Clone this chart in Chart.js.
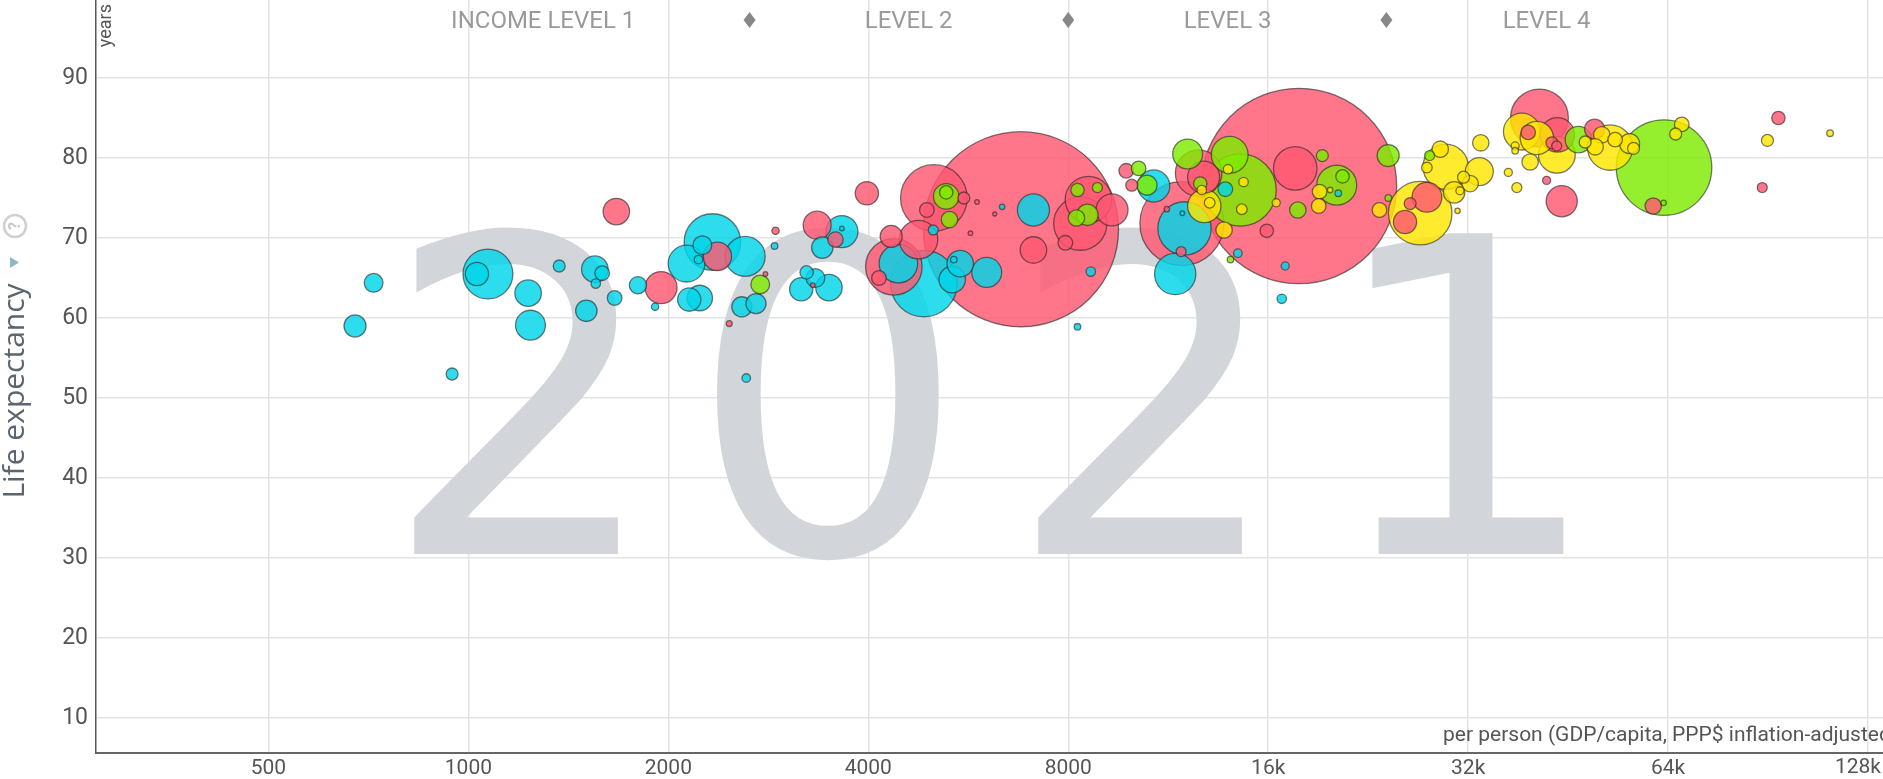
<!DOCTYPE html>
<html>
<head>
<meta charset="utf-8">
<title>Life expectancy vs income 2021</title>
<script src="https://cdn.jsdelivr.net/npm/chart.js@4.4.1/dist/chart.umd.min.js"></script>
<style>
  html, body { margin: 0; padding: 0; background: #fff; overflow: hidden; }
  #wrap { width: 1883px; height: 779px; }
</style>
</head>
<body>
<div id="wrap"><canvas id="bubbleChart" width="1883" height="779"></canvas></div>
<script>
// year shown behind the bubbles
const year = "2021";

// axis ticks
const xTicks = [500, 1000, 2000, 4000, 8000, 16000, 32000, 64000, 128000];
const yTicks = [10, 20, 30, 40, 50, 60, 70, 80, 90];

// income level header (GDP/capita where label / divider sits)
const levelLabels = ["INCOME LEVEL 1", "LEVEL 2", "LEVEL 3", "LEVEL 4"];
const levelCenters = [1296, 4600, 13900, 42000];
const levelBounds = [2650, 8000, 24100];

// [GDP per capita, life expectancy, population in millions]
const africa = [
  [1070, 65.5, 92], [1030, 65.5, 20], [720, 64.4, 13], [675, 59.0, 18], [945, 53.0, 5.3],
  [1230, 63.1, 26], [1240, 59.1, 33], [1370, 66.5, 5.3], [1550, 66.1, 26], [1590, 65.6, 7.9],
  [1555, 64.3, 3.3], [1505, 60.9, 17], [1660, 62.5, 7.9], [1800, 64.1, 11], [1910, 61.4, 2],
  [2330, 69.5, 118], [2610, 67.7, 59], [2130, 66.8, 50], [2250, 69.1, 13], [2220, 67.3, 2.7],
  [2150, 62.3, 20], [2230, 62.5, 24], [2580, 61.4, 15], [2710, 61.8, 15], [2890, 69.0, 1.6],
  [2620, 52.5, 2.7], [3650, 70.8, 38], [3410, 68.8, 17], [3650, 71.2, 0.8], [3230, 65.7, 6.6],
  [3330, 65.0, 13], [3170, 63.6, 20], [3490, 63.8, 26], [4850, 64.3, 164], [4440, 66.8, 55],
  [5350, 64.8, 26], [5500, 66.8, 26], [5380, 67.3, 1.6], [6030, 65.7, 33], [5010, 71.0, 3.7],
  [6360, 73.9, 1.1], [7090, 73.5, 38], [8650, 65.8, 3.3], [8260, 58.9, 1.6], [10760, 76.5, 38],
  [11970, 71.2, 105], [11590, 65.5, 63], [11880, 73.1, 0.8], [13790, 76.1, 7.9], [14400, 68.1, 2.7],
  [16970, 66.5, 2.4], [16770, 62.4, 3.3], [20400, 75.6, 1.6]
];

const asia = [
  [1670, 73.3, 26], [1950, 63.8, 38], [2370, 67.7, 30], [2900, 70.9, 2], [2800, 65.5, 0.8],
  [2470, 59.3, 1.3], [3350, 71.6, 29], [3570, 69.8, 8.8], [3300, 64.1, 0.8], [3980, 75.6, 20],
  [5020, 75.0, 164], [5570, 75.0, 5.3], [4900, 73.5, 7.9], [4330, 70.2, 18], [4760, 69.8, 55],
  [4370, 66.4, 118], [4150, 65.0, 7.9], [5830, 74.5, 0.8], [6200, 73.0, 0.5], [5700, 70.6, 0.8],
  [6790, 71.1, 1408], [7090, 68.5, 26], [17800, 76.5, 1412],
  [8580, 74.8, 80], [8340, 71.8, 105], [9310, 73.5, 38], [7920, 69.4, 7.9], [9780, 78.4, 7.9],
  [9970, 76.6, 5.3], [11860, 71.8, 261], [11830, 68.3, 3.7], [11260, 73.6, 1.1], [12790, 77.6, 38],
  [12570, 78.1, 80], [15920, 70.9, 6.6], [17570, 78.7, 70], [27740, 75.1, 33], [25710, 72.0, 20],
  [26170, 74.3, 5.3], [40970, 85.0, 124], [39400, 83.2, 7.9], [43600, 82.9, 44], [42770, 81.9, 5.3],
  [43500, 81.5, 3.7], [44260, 74.6, 36], [42000, 77.2, 2.4], [49600, 83.6, 15], [60780, 74.0, 10],
  [93800, 85.0, 6.6], [88700, 76.3, 3.7]
];

const americas = [
  [2750, 64.2, 13], [5240, 75.2, 24], [5240, 75.7, 6.6], [5300, 72.3, 10], [8260, 76.0, 6.6],
  [8850, 76.3, 3.7], [8550, 72.9, 17], [8230, 72.5, 10], [10210, 78.7, 7.9], [10510, 76.6, 15],
  [12100, 80.5, 33], [12640, 76.8, 6.6], [14000, 80.4, 50], [14520, 76.0, 192], [14040, 67.3, 1.6],
  [19300, 80.3, 5.3], [20290, 76.6, 59], [17730, 73.5, 10], [20700, 77.7, 6.6], [24250, 80.3, 18],
  [24260, 75.0, 1.6], [28000, 80.3, 3.7], [46900, 82.3, 26], [63100, 78.8, 337], [63000, 74.4, 1.1]
];

const europe = [
  [12820, 74.0, 41], [12710, 76.0, 3.3], [13060, 74.4, 4.2], [13730, 71.0, 10], [13920, 78.6, 3.3],
  [14690, 77.0, 3.3], [14600, 73.6, 4.2], [19120, 75.8, 7.9], [19060, 74.0, 7.9], [19830, 76.0, 1.1],
  [23530, 73.5, 7.9], [16450, 74.4, 2.4], [27100, 73.1, 149], [29600, 78.9, 76], [29050, 81.1, 10],
  [27730, 78.8, 4.2], [33260, 78.3, 29], [30480, 75.7, 17], [32220, 76.8, 10], [31490, 77.6, 5.3],
  [31100, 75.9, 2.4], [33430, 81.9, 10], [30840, 73.4, 1.1], [38540, 83.3, 50], [40600, 82.5, 41],
  [37660, 81.5, 2.4], [37660, 80.9, 1.6], [39670, 79.5, 10], [43520, 80.4, 50], [37880, 76.3, 3.7],
  [36780, 78.2, 2.4], [50850, 82.9, 10], [48000, 82.0, 5.3], [53260, 82.3, 7.9], [49700, 81.4, 10],
  [52350, 81.3, 76], [55990, 81.8, 15], [56770, 81.2, 5.3], [67100, 84.2, 7.9], [65700, 83.0, 5.3],
  [90300, 82.2, 5.3], [112200, 83.1, 1.6]
];

const regionColors = {
  africa: "rgba(0,213,233,0.82)",
  asia: "rgba(255,88,114,0.82)",
  americas: "rgba(127,235,0,0.82)",
  europe: "rgba(255,231,0,0.82)"
};

// one dataset, biggest bubbles first so small ones stay on top
const points = [];
Object.entries({ africa, asia, americas, europe }).forEach(([reg, rows]) => {
  rows.forEach(([gdp, life, pop]) => {
    points.push({ x: gdp, y: life, r: Math.max(2, 2.6 * Math.sqrt(pop)), reg });
  });
});
points.sort((a, b) => b.r - a.r);

const lastTick = xTicks[xTicks.length - 1];
const tickLabel = v => (v >= 16000 ? (v / 1000) + "k" : String(v));

const watermark = {
  id: "watermark",
  beforeDatasetsDraw(chart) {
    const ctx = chart.ctx;
    ctx.save();
    ctx.fillStyle = "#d2d6da";
    ctx.font = '440px "DejaVu Sans"';
    ctx.textAlign = "center";
    ctx.textBaseline = "alphabetic";
    const xs = [522, 828, 1146, 1464];
    [...year].forEach((d, i) => ctx.fillText(d, xs[i], 554));
    ctx.restore();
  }
};

const decorations = {
  id: "decorations",
  afterDraw(chart) {
    const ctx = chart.ctx;
    const xs = chart.scales.x;
    ctx.save();

    // income levels on top
    ctx.fillStyle = "#9a9a9a";
    ctx.font = '24px Roboto';
    ctx.textAlign = "center";
    ctx.textBaseline = "middle";
    levelLabels.forEach((t, i) => ctx.fillText(t, xs.getPixelForValue(levelCenters[i]), 22));
    ctx.fillStyle = "#888";
    levelBounds.forEach(v => {
      const px = xs.getPixelForValue(v);
      ctx.beginPath();
      ctx.moveTo(px, 12); ctx.lineTo(px + 6, 20); ctx.lineTo(px, 28); ctx.lineTo(px - 6, 20);
      ctx.closePath();
      ctx.fill();
    });

    // last x tick label kept inside the canvas
    ctx.fillStyle = "#555";
    ctx.font = '21px Roboto';
    ctx.textAlign = "right";
    ctx.textBaseline = "top";
    ctx.fillText(tickLabel(lastTick), Math.min(xs.getPixelForValue(lastTick) + 21, chart.width - 2), xs.top + 4);

    // x axis unit (runs off the right edge like the original)
    ctx.font = '21px Roboto';
    ctx.textAlign = "left";
    ctx.textBaseline = "middle";
    ctx.fillText("per person (GDP/capita, PPP$ inflation-adjusted)", 1443, 736);

    // "years" unit on the y axis
    ctx.save();
    ctx.translate(106, 4);
    ctx.rotate(-Math.PI / 2);
    ctx.font = '18px Roboto';
    ctx.textAlign = "right";
    ctx.fillText("years", 0, 0);
    ctx.restore();

    // y axis title
    ctx.save();
    ctx.translate(15, 391);
    ctx.rotate(-Math.PI / 2);
    ctx.fillStyle = "#5a6570";
    ctx.font = '30px "Open Sans"';
    ctx.textAlign = "center";
    ctx.fillText("Life expectancy", 0, 0);
    ctx.restore();

    ctx.fillStyle = "#8db6c6";
    ctx.beginPath();
    ctx.moveTo(10, 257); ctx.lineTo(10, 268); ctx.lineTo(19, 262.5);
    ctx.closePath();
    ctx.fill();

    ctx.strokeStyle = "#d0d0d0";
    ctx.lineWidth = 2.5;
    ctx.beginPath();
    ctx.arc(15, 226, 11, 0, Math.PI * 2);
    ctx.stroke();
    ctx.save();
    ctx.translate(15, 226);
    ctx.rotate(-Math.PI / 2);
    ctx.fillStyle = "#c8c8c8";
    ctx.font = 'bold 16px Roboto';
    ctx.textAlign = "center";
    ctx.fillText("?", 0, 1);
    ctx.restore();

    ctx.restore();
  }
};

new Chart(document.getElementById("bubbleChart"), {
  type: "bubble",
  data: {
    datasets: [{
      data: points,
      backgroundColor: c => (c.raw ? regionColors[c.raw.reg] : "#ccc"),
      borderColor: "rgba(35,35,35,0.6)",
      borderWidth: 1.3,
      hoverRadius: 0
    }]
  },
  options: {
    responsive: false,
    animation: false,
    events: [],
    layout: { padding: 0, autoPadding: false },
    plugins: { legend: { display: false }, tooltip: { enabled: false } },
    scales: {
      x: {
        type: "logarithmic",
        min: 275,
        max: 134800,
        afterBuildTicks: s => { s.ticks = xTicks.map(v => ({ value: v })); },
        afterFit: s => { s.height = 26; s.paddingLeft = 0; s.paddingRight = 0; },
        ticks: {
          // the last label is drawn by the decorations plugin so it is not cut off
          callback: v => (v === lastTick ? "" : tickLabel(v)),
          color: "#555",
          font: { family: "Roboto", size: 21 },
          padding: 3,
          maxRotation: 0,
          autoSkip: false
        },
        grid: { color: "#e3e3e3", lineWidth: 1.5, drawTicks: false },
        border: { color: "#666", width: 2 }
      },
      y: {
        min: 5.625,
        max: 99.75,
        afterBuildTicks: s => { s.ticks = yTicks.map(v => ({ value: v })); },
        afterFit: s => { s.width = 96; s.paddingTop = 0; s.paddingBottom = 0; },
        ticks: { color: "#555", font: { family: "Roboto", size: 23 }, padding: 8 },
        grid: { color: "#e3e3e3", lineWidth: 1.5, drawTicks: false },
        border: { color: "#555", width: 1.5 }
      }
    }
  },
  plugins: [watermark, decorations]
});
</script>
</body>
</html>
